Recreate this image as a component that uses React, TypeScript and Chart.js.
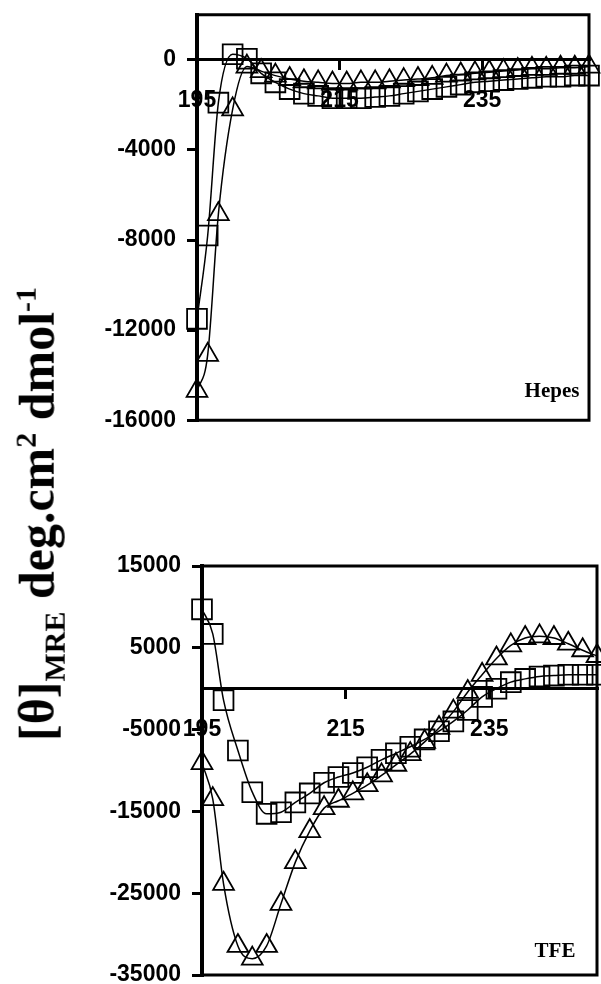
import React, { useEffect, useRef } from "react";
import { Chart, registerables } from "chart.js";

Chart.register(...registerables);

// Wavelength (nm) of each CD reading
const wavelengths = [
  195, 196.5, 198, 200, 202, 204, 206, 208, 210, 212, 214, 216, 218, 220, 222,
  224, 226, 228, 230, 232, 234, 236, 238, 240, 242, 244, 246, 248, 250,
];

// Hepes buffer: mean residue ellipticity
const hepesSquares = [
  -11500, -7800, -1900, 250, 50, -600, -1000, -1300, -1500, -1600, -1700, -1700,
  -1700, -1650, -1600, -1500, -1400, -1300, -1200, -1100, -1000, -950, -900,
  -850, -800, -750, -750, -700, -700,
];
const hepesTriangles = [
  -14700, -13100, -6850, -2200, -300, -500, -700, -850, -950, -1000, -1050,
  -1050, -1000, -1000, -950, -900, -850, -800, -700, -650, -600, -550, -500,
  -450, -400, -400, -350, -350, -300,
];

// TFE: mean residue ellipticity
const tfeSquares = [
  9700, 6700, -1400, -7550, -12650, -15300, -15100, -13900, -12800, -11500,
  -10800, -10300, -9600, -8700, -7900, -7100, -6200, -5200, -4000, -2600, -1000,
  0, 800, 1200, 1500, 1600, 1700, 1700, 1700,
];
const tfeTriangles = [
  -9100, -13500, -23850, -31450, -33000, -31450, -26300, -21200, -17400, -14600,
  -13700, -12800, -11800, -10600, -9300, -8000, -6500, -4800, -2800, -400, 1700,
  3700, 5300, 6200, 6400, 6200, 5500, 4700, 4000,
];

const xTickValues = [195, 215, 235];
const hepesYTicks = [-16000, -12000, -8000, -4000, 0];
const tfeYTicks = [-35000, -25000, -15000, -5000, 5000, 15000];

const tickFont = {
  family: '"Liberation Sans", Arial, sans-serif',
  size: 23,
  weight: "bold" as const,
};

const framePlugin = {
  id: "panelFrame",
  beforeDatasetsDraw(chart: any) {
    const { ctx, chartArea: a } = chart;
    ctx.save();
    ctx.strokeStyle = "#000";
    ctx.lineWidth = 3;
    ctx.beginPath();
    ctx.moveTo(a.left, a.top);
    ctx.lineTo(a.right, a.top);
    ctx.lineTo(a.right, a.bottom);
    ctx.lineTo(a.left, a.bottom);
    ctx.stroke();
    ctx.restore();
  },
};

type PanelProps = {
  squares: number[];
  triangles: number[];
  yMin: number;
  yMax: number;
  yTicks: number[];
  axisWidth: number;
  padding: { top: number; right: number; bottom: number; left: number };
  width: number;
  height: number;
};

function Panel(props: PanelProps) {
  const ref = useRef<HTMLCanvasElement>(null);
  useEffect(() => {
    if (!ref.current) return;
    const series = (vals: number[]) =>
      wavelengths.map((x, i) => ({ x, y: vals[i] }));
    const common = {
      borderColor: "#000",
      borderWidth: 1.5,
      backgroundColor: "rgba(0,0,0,0)",
      pointBackgroundColor: "rgba(0,0,0,0)",
      pointBorderColor: "#000",
      pointBorderWidth: 1.8,
      cubicInterpolationMode: "monotone" as const,
      clip: 24,
    };
    const chart = new Chart(ref.current, {
      type: "line",
      data: {
        datasets: [
          {
            ...common,
            data: series(props.squares),
            pointStyle: "rect",
            pointRadius: 14,
          },
          {
            ...common,
            data: series(props.triangles),
            pointStyle: "triangle",
            pointRadius: 12,
          },
        ],
      },
      options: {
        animation: false,
        responsive: false,
        events: [],
        layout: { padding: props.padding, autoPadding: false },
        plugins: {
          legend: { display: false },
          tooltip: { enabled: false },
        },
        scales: {
          x: {
            type: "linear",
            min: 195,
            max: 250,
            position: { y: 0 } as any,
            afterBuildTicks: (s: any) => {
              s.ticks = xTickValues.map((v) => ({ value: v }));
            },
            border: { display: true, color: "#000", width: 3 },
            grid: {
              drawOnChartArea: false,
              drawTicks: true,
              tickLength: 9,
              lineWidth: 3,
              color: "#000",
            },
            ticks: {
              color: "#000",
              font: tickFont,
              padding: 18,
              maxRotation: 0,
              autoSkip: false,
              callback: (v: any) => String(v),
            },
          },
          y: {
            type: "linear",
            min: props.yMin,
            max: props.yMax,
            position: "left",
            afterBuildTicks: (s: any) => {
              s.ticks = props.yTicks.map((v) => ({ value: v }));
            },
            afterFit: (s: any) => {
              s.width = props.axisWidth;
            },
            border: { display: true, color: "#000", width: 4 },
            grid: {
              drawOnChartArea: false,
              drawTicks: true,
              tickLength: 10,
              lineWidth: 3,
              color: "#000",
            },
            ticks: {
              color: "#000",
              font: tickFont,
              padding: 11,
              autoSkip: false,
              callback: (v: any) => String(v),
            },
          },
        },
      },
      plugins: [framePlugin],
    });
    return () => chart.destroy();
  }, []);
  return (
    <canvas
      ref={ref}
      width={props.width}
      height={props.height}
      style={{ display: "block", width: props.width, height: props.height }}
    />
  );
}

const serif = '"Liberation Serif", "Times New Roman", serif';

export default function App() {
  return (
    <div
      style={{
        position: "absolute",
        left: 0,
        top: 0,
        width: 601,
        height: 984,
        overflow: "hidden",
        background: "#fff",
      }}
    >
      <div style={{ position: "absolute", left: 0, top: -10 }}>
        <Panel
          squares={hepesSquares}
          triangles={hepesTriangles}
          yMin={-16000}
          yMax={2000}
          yTicks={hepesYTicks}
          axisWidth={197}
          padding={{ top: 14, right: 12, bottom: 22, left: 0 }}
          width={601}
          height={455}
        />
      </div>
      <div style={{ position: "absolute", left: 0, top: 540 }}>
        <Panel
          squares={tfeSquares}
          triangles={tfeTriangles}
          yMin={-35000}
          yMax={15000}
          yTicks={tfeYTicks}
          axisWidth={202}
          padding={{ top: 26, right: 4, bottom: 25, left: 0 }}
          width={601}
          height={460}
        />
      </div>
      <div
        style={{
          position: "absolute",
          left: 552,
          top: 390,
          transform: "translate(-50%,-50%)",
          fontFamily: serif,
          fontWeight: "bold",
          fontSize: 21,
          lineHeight: 1,
          whiteSpace: "nowrap",
        }}
      >
        Hepes
      </div>
      <div
        style={{
          position: "absolute",
          left: 555,
          top: 950,
          transform: "translate(-50%,-50%)",
          fontFamily: serif,
          fontWeight: "bold",
          fontSize: 21,
          lineHeight: 1,
          whiteSpace: "nowrap",
        }}
      >
        TFE
      </div>
      <div
        style={{
          position: "absolute",
          left: 40,
          top: 514,
          transform: "translate(-50%,-50%) rotate(-90deg)",
          fontFamily: serif,
          fontWeight: "bold",
          fontSize: 50,
          lineHeight: 1,
          whiteSpace: "nowrap",
        }}
      >
        [θ]<sub style={{ fontSize: "0.6em" }}>MRE</sub> deg.cm
        <sup style={{ fontSize: "0.6em" }}>2</sup> dmol
        <sup style={{ fontSize: "0.6em" }}>-1</sup>
      </div>
    </div>
  );
}
